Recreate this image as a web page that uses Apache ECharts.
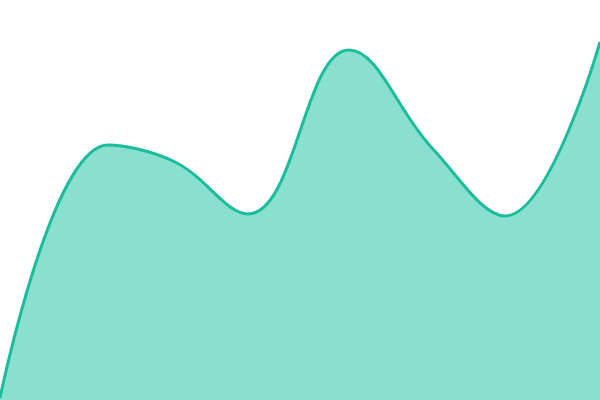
<!DOCTYPE html>
<html><head><meta charset="utf-8">
<script src="https://cdn.jsdelivr.net/npm/echarts@6/dist/echarts.min.js"></script>
<style>html,body{margin:0;padding:0;background:#fff}#c{width:600px;height:400px}</style>
</head><body><div id="c"></div>
<script>
const xValues = [0, 108, 175, 248, 349, 432, 505, 600];
const yValues = [2, 255, 238, 186, 350, 252, 184, 358];
const chart = echarts.init(document.getElementById('c'));
chart.setOption({
  animation: false,
  grid: {left: 0, right: 0, top: 0, bottom: 0},
  xAxis: {type: 'value', min: 0, max: 600, show: false},
  yAxis: {type: 'value', min: 0, max: 400, show: false},
  series: [{
    type: 'line', data: xValues.map((x, i) => [x, yValues[i]]), smooth: 0.4, symbol: 'none',
    lineStyle: {color: '#1abc9c', width: 3},
    areaStyle: {color: '#8ae0cf', opacity: 1}
  }]
});
</script></body></html>
